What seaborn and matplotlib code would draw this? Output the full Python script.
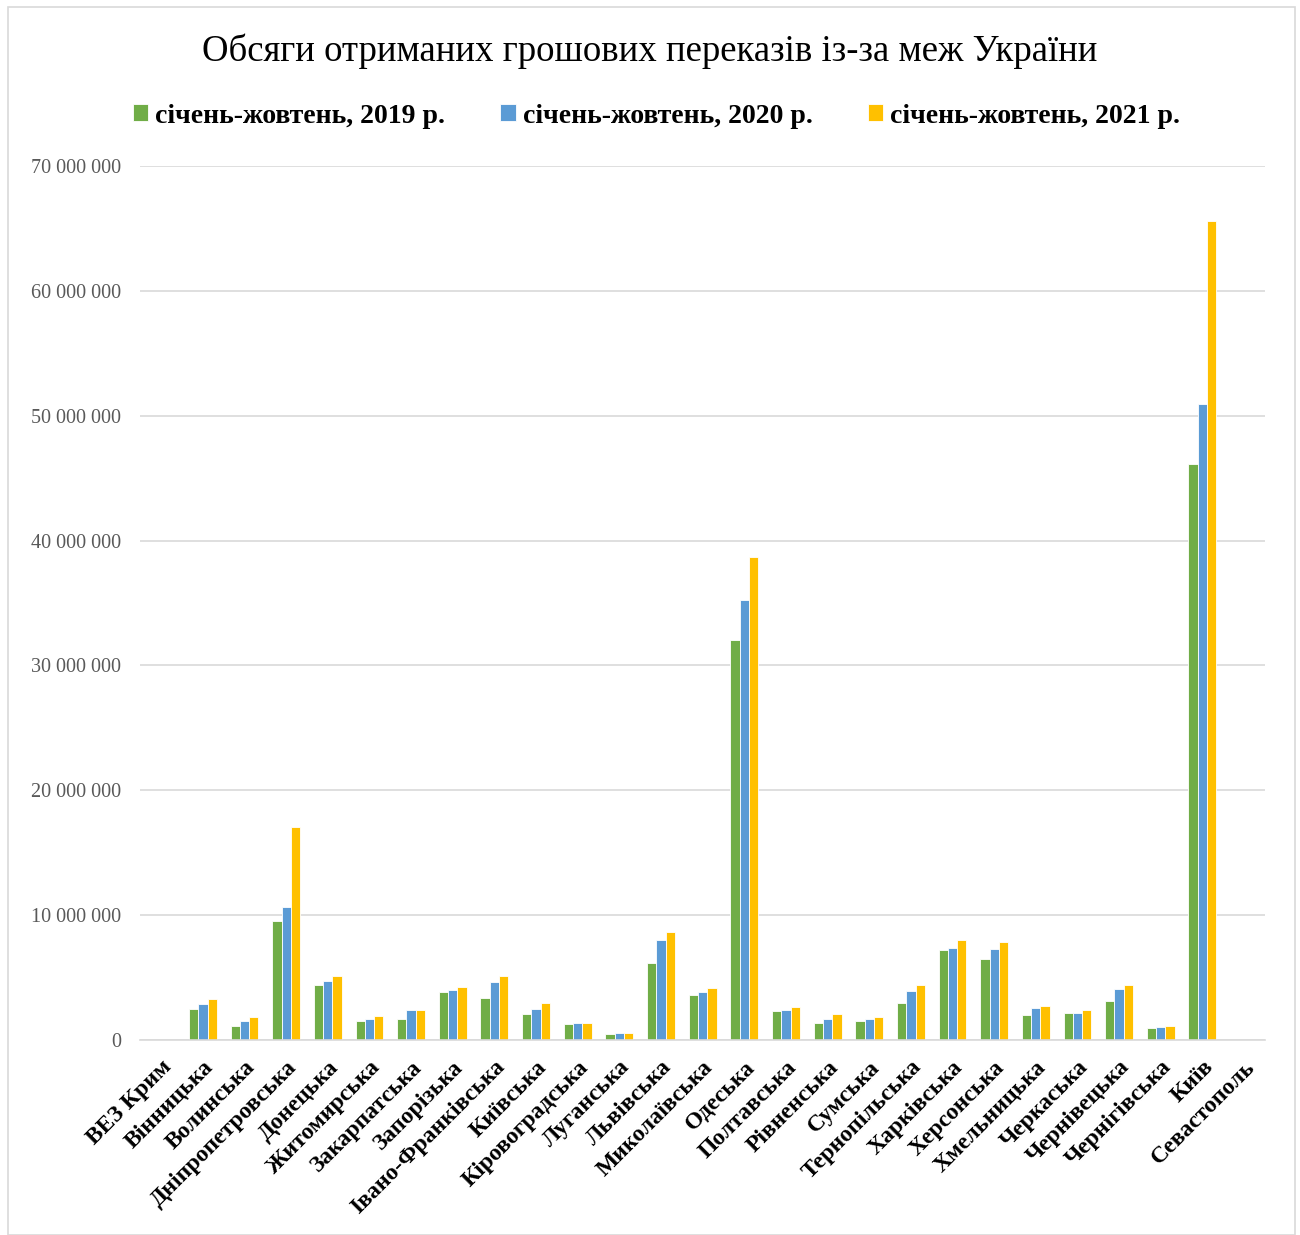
import pandas as pd
import matplotlib.pyplot as plt
import matplotlib.patches as patches
import seaborn as sns

# Регіони (категорії)
regions = ['ВЕЗ Крим', 'Вінницька', 'Волинська', 'Дніпропетровська', 'Донецька',
           'Житомирська', 'Закарпатська', 'Запорізька', 'Івано-Франківська', 'Київська',
           'Кіровоградська', 'Луганська', 'Львівська', 'Миколаївська', 'Одеська',
           'Полтавська', 'Рівненська', 'Сумська', 'Тернопільська', 'Харківська',
           'Херсонська', 'Хмельницька', 'Черкаська', 'Чернівецька', 'Чернігівська',
           'Київ', 'Севастополь']

# Значення (млн)
vals_2019 = [0, 2.44, 1.15, 9.52, 4.42, 1.55, 1.66, 3.80, 3.32, 2.09,
             1.31, 0.50, 6.16, 3.59, 32.0, 2.30, 1.37, 1.55, 2.98, 7.18,
             6.46, 1.98, 2.17, 3.11, 0.99, 46.15, 0]
vals_2020 = [0, 2.86, 1.53, 10.67, 4.74, 1.66, 2.38, 4.02, 4.61, 2.46,
             1.37, 0.56, 8.01, 3.83, 35.26, 2.38, 1.66, 1.66, 3.94, 7.40,
             7.29, 2.57, 2.17, 4.07, 1.07, 50.97, 0]
vals_2021 = [0, 3.30, 1.85, 17.08, 5.12, 1.95, 2.41, 4.23, 5.09, 2.98,
             1.37, 0.56, 8.63, 4.13, 38.67, 2.60, 2.04, 1.87, 4.37, 7.99,
             7.83, 2.74, 2.41, 4.42, 1.15, 65.57, 0]

series = ['січень-жовтень, 2019 р.', 'січень-жовтень, 2020 р.', 'січень-жовтень, 2021 р.']
colors = ['#70AD47', '#5B9BD5', '#FFC000']

df = pd.DataFrame({
    'Регіон': regions * 3,
    'Період': [series[0]] * len(regions) + [series[1]] * len(regions) + [series[2]] * len(regions),
    'Обсяг': [v * 1e6 for v in vals_2019 + vals_2020 + vals_2021],
})

sns.set_style('white')
plt.rcParams['font.family'] = ['Liberation Serif', 'DejaVu Serif']
plt.rcParams['text.color'] = 'black'

fig = plt.figure(figsize=(13, 12.35), dpi=100)
ax = fig.add_axes([0.108, 0.158, 0.865, 0.7075])

sns.barplot(data=df, x='Регіон', y='Обсяг', hue='Період', palette=colors,
            saturation=1, width=0.67, edgecolor='white', linewidth=0.6,
            ax=ax, legend=True)

ax.set_ylim(0, 70e6)
ax.set_xlim(-0.5, len(regions) - 0.5)
ax.set_yticks([i * 10e6 for i in range(8)])
ax.set_yticklabels(['{:,}'.format(int(i * 10e6)).replace(',', ' ') for i in range(8)],
                   fontsize=14.5, color='#595959')
ax.tick_params(axis='y', length=0, pad=14)
ax.tick_params(axis='x', length=0, pad=12)
ax.set_xticks(range(len(regions)))
ax.set_xticklabels(regions, rotation=45, ha='right', rotation_mode='anchor',
                   fontsize=17, fontweight='bold', color='black')
ax.set_xlabel('')
ax.set_ylabel('')
ax.yaxis.grid(True, color='#d9d9d9', linewidth=1.2)
ax.set_axisbelow(True)
for s in ['top', 'right', 'left']:
    ax.spines[s].set_visible(False)
ax.spines['bottom'].set_color('#d9d9d9')
ax.spines['bottom'].set_linewidth(1.2)

handles, labels = ax.get_legend_handles_labels()
ax.get_legend().remove()
fig.legend(handles, labels, loc='center', bbox_to_anchor=(0.505, 0.906), ncol=3,
           frameon=False, handlelength=0.55, handleheight=0.55, handletextpad=0.25,
           columnspacing=2.0, prop={'size': 20, 'weight': 'bold'})

fig.suptitle('Обсяги отриманих грошових переказів із-за меж України',
             y=0.973, fontsize=26.5, color='black')

# Рамка навколо діаграми
fig.add_artist(patches.Rectangle((0.006, 0.0), 0.99, 0.994, transform=fig.transFigure,
                                 fill=False, edgecolor='#d9d9d9', linewidth=1.2))

plt.savefig('out.png', dpi=100)
